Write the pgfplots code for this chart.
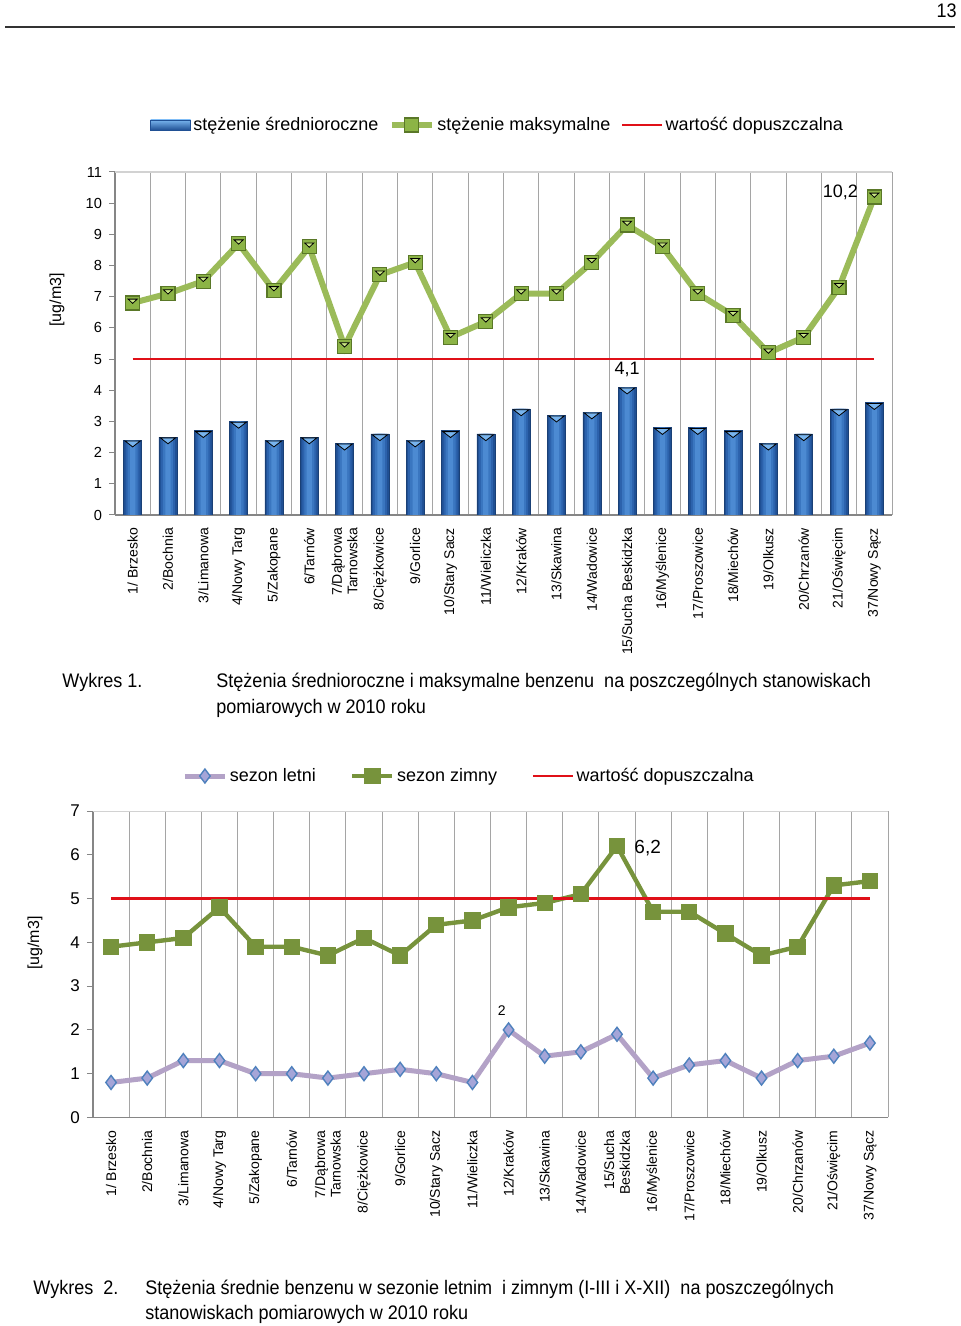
\documentclass[border=0pt]{standalone}
\usepackage{fontspec}
\setmainfont{Liberation Sans}
\newfontfamily\capfam[FakeStretch=0.92]{Liberation Sans}
\usepackage{pgfplots}
\pgfplotsset{compat=1.18}
\usepackage{pgfplotstable}
\definecolor{barDark}{RGB}{32,80,148}
\definecolor{barMidA}{RGB}{44,98,172}
\definecolor{barMidC}{RGB}{58,118,192}
\definecolor{barCenter}{RGB}{76,138,210}
\definecolor{barLight}{RGB}{120,180,238}
\definecolor{maxGreen}{RGB}{155,187,89}
\definecolor{maxMark}{RGB}{140,180,70}
\definecolor{maxMarkDark}{RGB}{90,120,40}
\definecolor{maxTri}{RGB}{200,230,130}
\definecolor{limRed}{RGB}{224,16,24}
\definecolor{sumLine}{RGB}{179,162,199}
\definecolor{sumFill}{RGB}{165,165,216}
\definecolor{sumEdge}{RGB}{79,129,189}
\definecolor{winGreen}{RGB}{119,147,60}
\definecolor{gridGray}{RGB}{165,165,165}
\definecolor{axisGray}{RGB}{134,134,134}

\pgfplotstableread{
x avg max
0 2.4 6.8
1 2.5 7.1
2 2.7 7.5
3 3.0 8.7
4 2.4 7.2
5 2.5 8.6
6 2.3 5.4
7 2.6 7.7
8 2.4 8.1
9 2.7 5.7
10 2.6 6.2
11 3.4 7.1
12 3.2 7.1
13 3.3 8.1
14 4.1 9.3
15 2.8 8.6
16 2.8 7.1
17 2.7 6.4
18 2.3 5.2
19 2.6 5.7
20 3.4 7.3
21 3.6 10.2
}\chartA

\pgfplotstableread{
x sum win
0 0.8 3.9
1 0.9 4.0
2 1.3 4.1
3 1.3 4.8
4 1.0 3.9
5 1.0 3.9
6 0.9 3.7
7 1.0 4.1
8 1.1 3.7
9 1.0 4.4
10 0.8 4.5
11 2.0 4.8
12 1.4 4.9
13 1.5 5.1
14 1.9 6.2
15 0.9 4.7
16 1.2 4.7
17 1.3 4.2
18 0.9 3.7
19 1.3 3.9
20 1.4 5.3
21 1.7 5.4
}\chartB

\pgfplotsset{
  common/.style={
    scale only axis,
    anchor=south west,
    xmin=-0.5, xmax=21.5, ymin=0,
    axis lines=left,
    axis line style={-, draw=axisGray, line width=0.6pt},
    xtick={0,...,21},
    xtick style={draw=none},
    minor xtick={-0.5,0.5,...,21.5},
    xminorgrids=true,
    minor x grid style={draw=gridGray, line width=0.5pt},
    ytick style={draw=axisGray, line width=0.5pt},
    tick align=outside, major tick length=3pt,
    /pgf/number format/assume math mode=true,
    xticklabel style={rotate=90, anchor=east, align=right, font=\fontsize{7}{7.8}\selectfont},
    legend columns=3,
    legend image code/.code={\draw[mark repeat=2,mark phase=2,##1] plot coordinates {(0pt,0pt) (10pt,0pt) (20pt,0pt)};},
  }
}

\newcommand{\capfont}{\capfam\fontsize{9.8}{11}\selectfont}

\begin{document}
\begin{tikzpicture}
\useasboundingbox (0,0) rectangle (480pt,663pt);

% page header
\node[anchor=base east, inner sep=0pt, font=\capfont] at (478.5pt,654pt) {13};
\draw[line width=1pt, black!80] (2.5pt,649.5pt) -- (477.5pt,649.5pt);

% ---------- chart 1 ----------
\begin{axis}[common,
  at={(57.5pt,405.5pt)}, width=388.5pt, height=171.5pt,
  ymax=11, ytick={0,...,11},
  yticklabel style={font=\fontsize{7.3}{8}\selectfont},
  xticklabels={{1/ Brzesko},{2/Bochnia},{3/Limanowa},{4/Nowy Targ},{5/Zakopane},{6/Tarnów},{7/Dąbrowa\\Tarnowska},{8/Ciężkowice},{9/Gorlice},{10/Stary Sacz},{11/Wieliczka},{12/Kraków},{13/Skawina},{14/Wadowice},{15/Sucha Beskidzka},{16/Myślenice},{17/Proszowice},{18/Miechów},{19/Olkusz},{20/Chrzanów},{21/Oświęcim},{37/Nowy Sącz}},
  ylabel={[ug/m3]},
  ylabel style={at={(axis description cs:-0.0746,0.627)}, anchor=center, font=\fontsize{8}{9}\selectfont},
  legend style={at={(0.045,1.137)}, anchor=west, draw=none, fill=none, inner sep=0pt,
    font=\fontsize{9}{10}\selectfont, nodes={inner sep=1.2pt},
    /tikz/every even column/.append style={column sep=4pt}},
]
\draw[draw=gray!35, line width=0.6pt] (rel axis cs:0,1) -- (rel axis cs:1,1);
\addplot[ybar, bar width=9pt, fill=barDark, draw=barDark!80!black, line width=0.3pt,
  legend image code/.code={\shade[top color=barLight, bottom color=barDark, draw=barDark, line width=0.3pt] (0pt,-2.5pt) rectangle (20pt,2.5pt);}]
  table[x=x,y=avg]{\chartA};
\addlegendentry{stężenie średnioroczne}
\addplot[ybar, bar width=7pt, fill=barMidA, draw=none, forget plot] table[x=x,y=avg]{\chartA};
\addplot[ybar, bar width=5pt, fill=barMidC, draw=none, forget plot] table[x=x,y=avg]{\chartA};
\addplot[ybar, bar width=2.6pt, fill=barCenter, draw=none, forget plot] table[x=x,y=avg]{\chartA};
\addplot[only marks, mark=triangle*, mark size=4.4pt, forget plot,
  mark options={yshift=-1.4pt, yscale=-0.45, fill=barLight, draw=none}]
  table[x=x,y=avg]{\chartA};
\addplot[maxGreen, line width=3pt, mark=square*, mark size=3.5pt,
  mark options={fill=maxMark, draw=maxMarkDark, line width=0.6pt}]
  table[x=x,y=max]{\chartA};
\addlegendentry{stężenie maksymalne}
\addplot[only marks, mark=triangle*, mark size=2.6pt, forget plot,
  mark options={yshift=1.2pt, yscale=-0.55, fill=maxTri, draw=none}]
  table[x=x,y=max]{\chartA};
\addplot[limRed, line width=1.3pt] coordinates {(0,5) (21,5)};
\addlegendentry{wartość dopuszczalna}
\node[font=\fontsize{9}{10}\selectfont] at (axis cs:14,4.68) {4,1};
\node[font=\fontsize{9}{10}\selectfont] at (axis cs:20.04,10.36) {10,2};
\end{axis}

\node[anchor=base west, inner sep=0pt, font=\capfont] at (31pt,319pt) {Wykres 1.};
\node[anchor=base west, inner sep=0pt, font=\capfont] at (108pt,319pt) {Stężenia średnioroczne i maksymalne benzenu\ \ na poszczególnych stanowiskach};
\node[anchor=base west, inner sep=0pt, font=\capfont] at (108pt,306pt) {pomiarowych w 2010 roku};

% ---------- chart 2 ----------
\begin{axis}[common,
  at={(46.5pt,104.25pt)}, width=397.5pt, height=153.25pt,
  ymax=7, ytick={0,...,7},
  yticklabel style={font=\fontsize{8.5}{9}\selectfont},
  xticklabels={{1/ Brzesko},{2/Bochnia},{3/Limanowa},{4/Nowy Targ},{5/Zakopane},{6/Tarnów},{7/Dąbrowa\\Tarnowska},{8/Ciężkowice},{9/Gorlice},{10/Stary Sacz},{11/Wieliczka},{12/Kraków},{13/Skawina},{14/Wadowice},{15/Sucha\\Beskidzka},{16/Myślenice},{17/Proszowice},{18/Miechów},{19/Olkusz},{20/Chrzanów},{21/Oświęcim},{37/Nowy Sącz}},
  ylabel={[ug/m3]},
  ylabel style={at={(axis description cs:-0.073,0.569)}, anchor=center, font=\fontsize{8}{9}\selectfont},
  legend style={at={(0.112,1.114)}, anchor=west, draw=none, fill=none, inner sep=0pt,
    font=\fontsize{9}{10}\selectfont, nodes={inner sep=1.2pt},
    /tikz/every even column/.append style={column sep=16pt}},
]
\draw[draw=gray!35, line width=0.6pt] (rel axis cs:0,1) -- (rel axis cs:1,1);
\addplot[sumLine, line width=2.5pt, mark=diamond*, mark size=3.5pt,
  mark options={fill=sumFill, draw=sumEdge, line width=0.7pt}]
  table[x=x,y=sum]{\chartB};
\addlegendentry{sezon letni}
\addplot[winGreen, line width=2.2pt, mark=square*, mark size=3pt,
  mark options={fill=winGreen, draw=winGreen}]
  table[x=x,y=win]{\chartB};
\addlegendentry{sezon zimny}
\addplot[limRed, line width=1.3pt] coordinates {(0,5) (21,5)};
\addlegendentry{wartość dopuszczalna}
\node[font=\fontsize{7}{8}\selectfont] at (axis cs:10.81,2.45) {2};
\node[font=\fontsize{9.5}{10}\selectfont] at (axis cs:14.85,6.15) {6,2};
\end{axis}

\node[anchor=base west, inner sep=0pt, font=\capfont] at (16.5pt,16pt) {Wykres\ \ 2.};
\node[anchor=base west, inner sep=0pt, font=\capfont] at (72.5pt,16pt) {Stężenia średnie benzenu w sezonie letnim\ \ i zimnym (I-III i X-XII)\ \ na poszczególnych};
\node[anchor=base west, inner sep=0pt, font=\capfont] at (72.5pt,3pt) {stanowiskach pomiarowych w 2010 roku};
\end{tikzpicture}
\end{document}
